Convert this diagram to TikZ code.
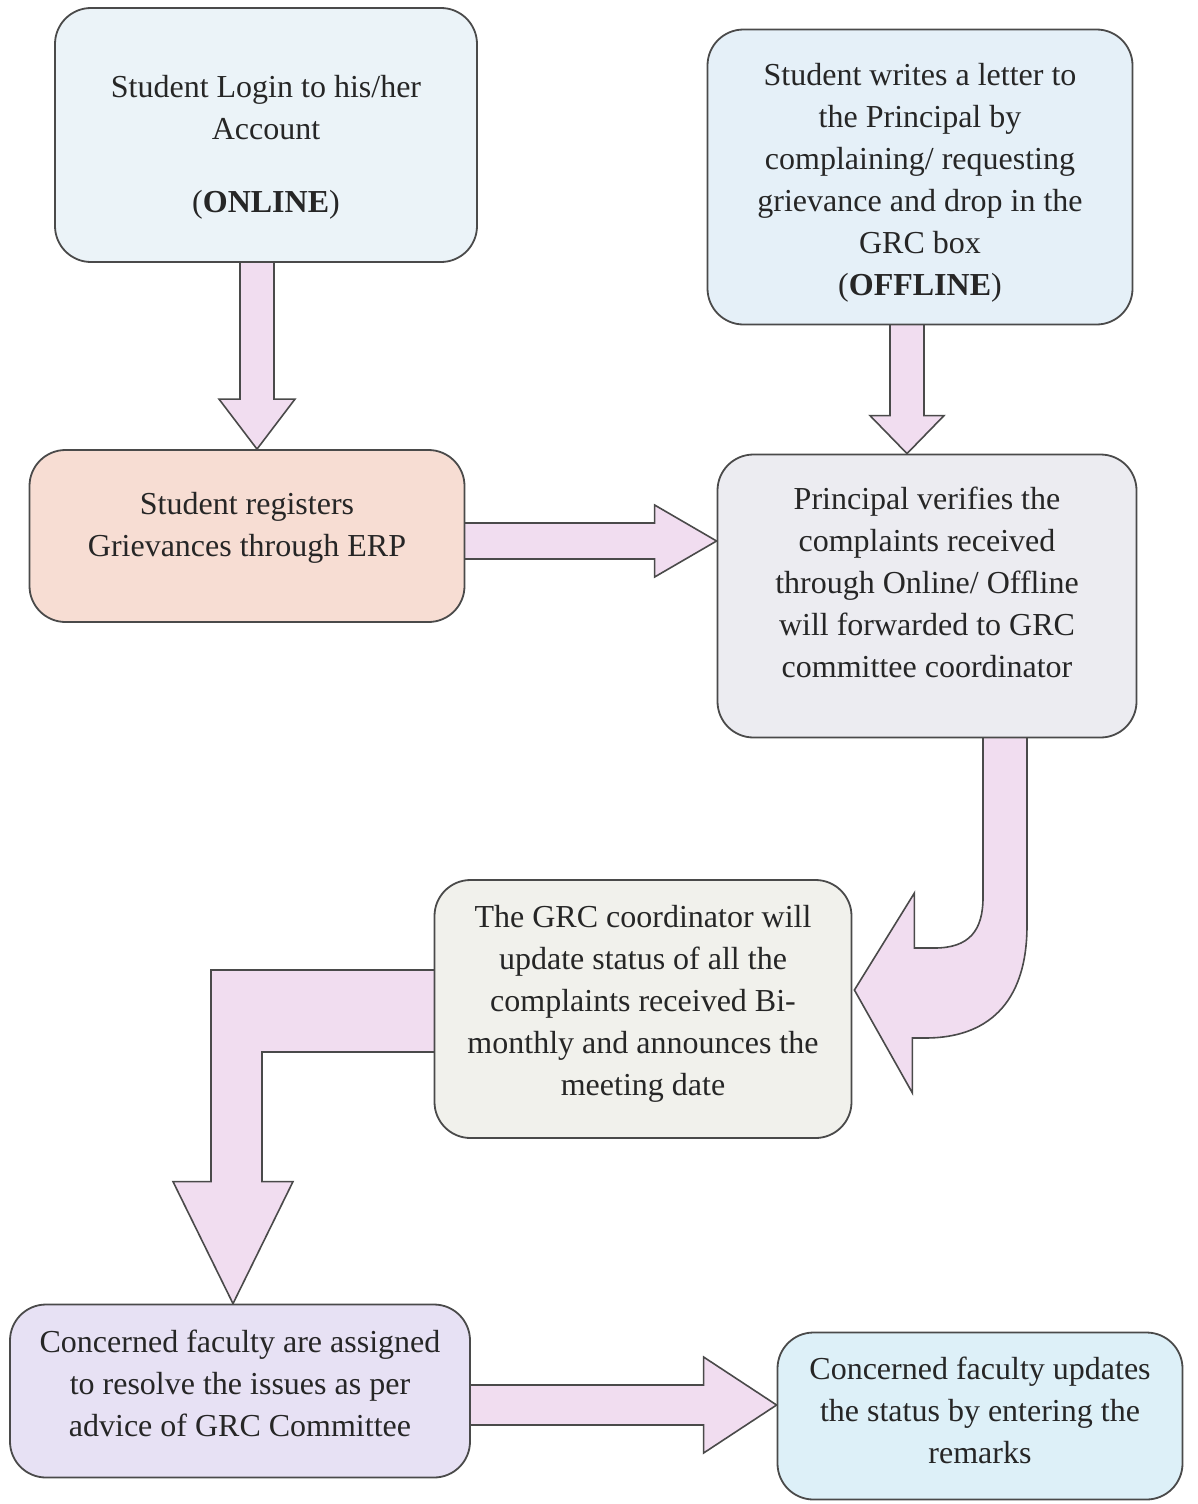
\documentclass[tikz,border=0pt]{standalone}
\usepackage{fontspec}
\setmainfont{Liberation Serif}
\usetikzlibrary{calc}
\pgfdeclarelayer{background}
\pgfsetlayers{background,main}
\definecolor{strk}{HTML}{4A4A4A}
\definecolor{cA}{HTML}{EBF3F8}
\definecolor{cB}{HTML}{E5F0F8}
\definecolor{cC}{HTML}{F7DDD3}
\definecolor{cD}{HTML}{ECECF1}
\definecolor{cE}{HTML}{F1F1EC}
\definecolor{cF}{HTML}{E7E1F4}
\definecolor{cG}{HTML}{DDF0F8}
\definecolor{arrowfill}{HTML}{F1DDF0}
\definecolor{txtc}{HTML}{262626}
\begin{document}
\begin{tikzpicture}[x=1pt,y=-1pt,
  box/.style={draw=strk,line width=1.8pt,rounded corners=36pt,inner sep=0pt},
  txt/.style={align=center,font=\fontsize{32}{42}\selectfont,text=txtc,inner sep=0pt},
  barrow/.style={draw=strk,line width=1.6pt,fill=arrowfill,line join=miter}]
\useasboundingbox (0,0) rectangle (1197,1504);

% boxes
\node[box,fill=cA,minimum width=422pt,minimum height=254pt] (A) at (266,135) {};
\node[txt] (tA) at ($(A.center)+(0,12)$) {Student Login to his/her\\Account\\[31pt](\textbf{ONLINE})};

\node[box,fill=cB,minimum width=425pt,minimum height=295pt] (B) at (920,177) {};
\node[txt] (tB) at ($(B.center)+(0,6)$) {Student writes a letter to\\the Principal by\\complaining/ requesting\\grievance and drop in the\\GRC box\\(\textbf{OFFLINE})};

\node[box,fill=cC,minimum width=435pt,minimum height=172pt] (C) at (247,536) {};
\node[txt] (tC) at ($(C.center)+(0,-8)$) {Student registers\\Grievances through ERP};

\node[box,fill=cD,minimum width=419pt,minimum height=283pt] (D) at (927,596) {};
\node[txt] (tD) at ($(D.center)+(0,-14)$) {Principal verifies the\\complaints received\\through Online/ Offline\\will forwarded to GRC\\committee coordinator};

\node[box,fill=cE,minimum width=417pt,minimum height=258pt] (E) at (643,1009) {};
\node[txt] (tE) at ($(E.center)+(0,-5)$) {The GRC coordinator will\\update status of all the\\complaints received Bi-\\monthly and announces the\\meeting date};

\node[box,fill=cF,minimum width=460pt,minimum height=173pt] (F) at (240,1391) {};
\node[txt] (tF) at ($(F.center)+(0,-8)$) {Concerned faculty are assigned\\to resolve the issues as per\\advice of GRC Committee};

\node[box,fill=cG,minimum width=405pt,minimum height=167pt] (G) at (980,1416) {};
\node[txt] (tG) at ($(G.center)+(0,-6)$) {Concerned faculty updates\\the status by entering the\\remarks};

\begin{pgfonlayer}{background}
\fill[white] (0,0) rectangle (1197,1504);
% A -> C
\coordinate (ac0) at ($(A.south)+(-9,0)$);
\coordinate (ac1) at (ac0 |- C.north);
\draw[barrow] ($(ac0)+(-17,-6)$) -- ($(ac1)+(-17,-50)$) -- ($(ac1)+(-38,-50)$) -- (ac1)
  -- ($(ac1)+(38,-50)$) -- ($(ac1)+(17,-50)$) -- ($(ac0)+(17,-6)$) -- cycle;
% B -> D
\coordinate (bd0) at ($(B.south)+(-13,0)$);
\coordinate (bd1) at (bd0 |- D.north);
\draw[barrow] ($(bd0)+(-17,-6)$) -- ($(bd1)+(-17,-38)$) -- ($(bd1)+(-37,-38)$) -- (bd1)
  -- ($(bd1)+(37,-38)$) -- ($(bd1)+(17,-38)$) -- ($(bd0)+(17,-6)$) -- cycle;
% C -> D
\coordinate (cd0) at ($(C.east)+(0,5)$);
\coordinate (cd1) at (cd0 -| D.west);
\draw[barrow] ($(cd0)+(-6,-18)$) -- ($(cd1)+(-62,-18)$) -- ($(cd1)+(-62,-36)$) -- (cd1)
  -- ($(cd1)+(-62,36)$) -- ($(cd1)+(-62,18)$) -- ($(cd0)+(-6,18)$) -- cycle;
% D -> E (curved)
\coordinate (de0) at ($(D.south)+(78,0)$);
\coordinate (de1) at ($(E.east)+(2,-19)$);
\draw[barrow] ($(de0)+(22,-6)$) -- ($(de0)+(22,187)$)
  .. controls ($(de0)+(22,267)$) and ($(de1)+(131,48)$) .. ($(de1)+(71,48)$)
  -- ($(de1)+(58,48)$) -- ($(de1)+(58,103)$) -- (de1) -- ($(de1)+(60,-97)$)
  -- ($(de1)+(60,-42)$) -- ($(de1)+(80,-42)$)
  .. controls ($(de1)+(115,-42)$) and ($(de0)+(-22,192)$) .. ($(de0)+(-22,159)$)
  -- ($(de0)+(-22,-6)$) -- cycle;
% E -> F (elbow)
\coordinate (ef0) at (E.west);
\coordinate (ef1) at ($(F.north)+(-7,0)$);
\draw[barrow] ($(ef0)+(6,-39)$) -- ($(ef0 -| ef1)+(-22,-39)$) -- ($(ef1)+(-22,-122)$)
  -- ($(ef1)+(-60,-122)$) -- (ef1) -- ($(ef1)+(60,-122)$) -- ($(ef1)+(29,-122)$)
  -- ($(ef0 -| ef1)+(29,43)$) -- ($(ef0)+(6,43)$) -- cycle;
% F -> G
\coordinate (fg0) at ($(F.east)+(0,14)$);
\coordinate (fg1) at (fg0 -| G.west);
\draw[barrow] ($(fg0)+(-6,-20)$) -- ($(fg1)+(-73,-20)$) -- ($(fg1)+(-73,-48)$) -- (fg1)
  -- ($(fg1)+(-73,48)$) -- ($(fg1)+(-73,20)$) -- ($(fg0)+(-6,20)$) -- cycle;
\end{pgfonlayer}
\end{tikzpicture}
\end{document}
